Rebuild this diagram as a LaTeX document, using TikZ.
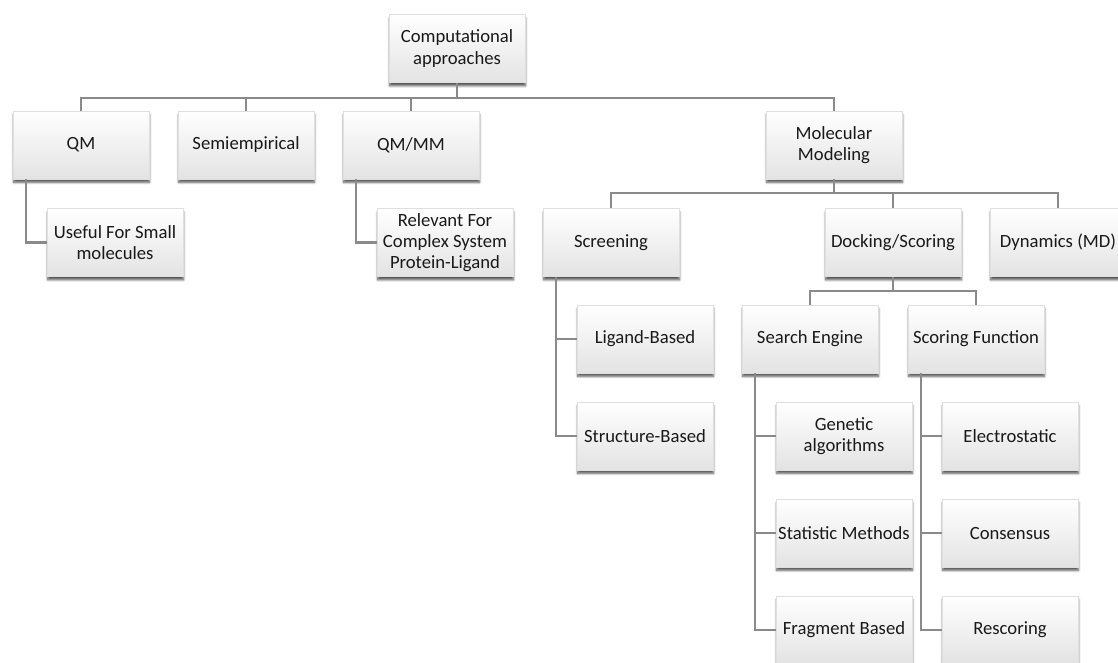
\documentclass[tikz,border=0pt]{standalone}
\usepackage{fontspec}
\setmainfont{Carlito}
\usepackage{tikz}
\usetikzlibrary{shadows.blur}

\definecolor{linegray}{HTML}{8A8A8A}

\begin{document}
\begin{tikzpicture}[x=0.75pt,y=-0.75pt]
  \tikzstyle{box}=[rectangle,draw=gray!25,line width=0.4pt,top color=white,bottom color=gray!22,
    minimum width=102pt,minimum height=51pt,inner sep=1pt,align=center,text=black!90,
    font=\fontsize{14}{15.8}\selectfont,
    blur shadow={shadow xshift=0.4pt,shadow yshift=-2.6pt,shadow blur radius=1.6pt,
      shadow blur steps=6,shadow opacity=65}]
  \tikzstyle{conn}=[draw=linegray,line width=1.7pt]

  \useasboundingbox (0,0) rectangle (1118,662);
  \clip (0,0) rectangle (1118,662);

  % top level
  \node[box] (root) at (457,48.5) {Computational\\approaches};
  \node[box] (qm) at (81,145) {QM};
  \node[box] (semi) at (246,145) {Semiempirical};
  \node[box] (qmmm) at (411,145) {QM/MM};
  \node[box] (molmod) at (834,145) {Molecular\\Modeling};

  \node[box] (useful) at (115,242.5) {Useful For Small\\molecules};
  \node[box] (relevant) at (445,242.5) {Relevant For\\Complex System\\Protein-Ligand};

  % molecular modeling branch
  \node[box] (screening) at (611,242.5) {Screening};
  \node[box] (docking) at (893,242.5) {Docking/Scoring};
  \node[box] (dynamics) at (1058,242.5) {Dynamics (MD)};

  \node[box] (ligand) at (645,339) {Ligand-Based};
  \node[box] (structure) at (645,436) {Structure-Based};

  \node[box] (search) at (810,339) {Search Engine};
  \node[box] (scoring) at (976,339) {Scoring Function};

  \node[box] (genetic) at (844,436) {Genetic\\algorithms};
  \node[box] (statistic) at (844,533) {Statistic Methods};
  \node[box] (fragment) at (844,630) {Fragment Based};

  \node[box] (electro) at (1010,436) {Electrostatic};
  \node[box] (consensus) at (1010,533) {Consensus};
  \node[box] (rescoring) at (1010,630) {Rescoring};

  % buses
  \foreach \c in {qm,semi,qmmm,molmod}
    \draw[conn] (root.south) -- ++(0,15) -| (\c.north);
  \foreach \c in {screening,docking,dynamics}
    \draw[conn] (molmod.south) -- ++(0,14) -| (\c.north);
  \foreach \c in {search,scoring}
    \draw[conn] (docking.south) -- ++(0,14) -| (\c.north);

  % side branches
  \draw[conn] (qm.south west) ++(13,0) |- (useful.west);
  \draw[conn] (qmmm.south west) ++(13,0) |- (relevant.west);
  \foreach \c in {ligand,structure}
    \draw[conn] (screening.south west) ++(13,0) |- (\c.west);
  \foreach \c in {genetic,statistic,fragment}
    \draw[conn] (search.south west) ++(13,0) |- (\c.west);
  \foreach \c in {electro,consensus,rescoring}
    \draw[conn] (scoring.south west) ++(13,0) |- (\c.west);
\end{tikzpicture}
\end{document}
